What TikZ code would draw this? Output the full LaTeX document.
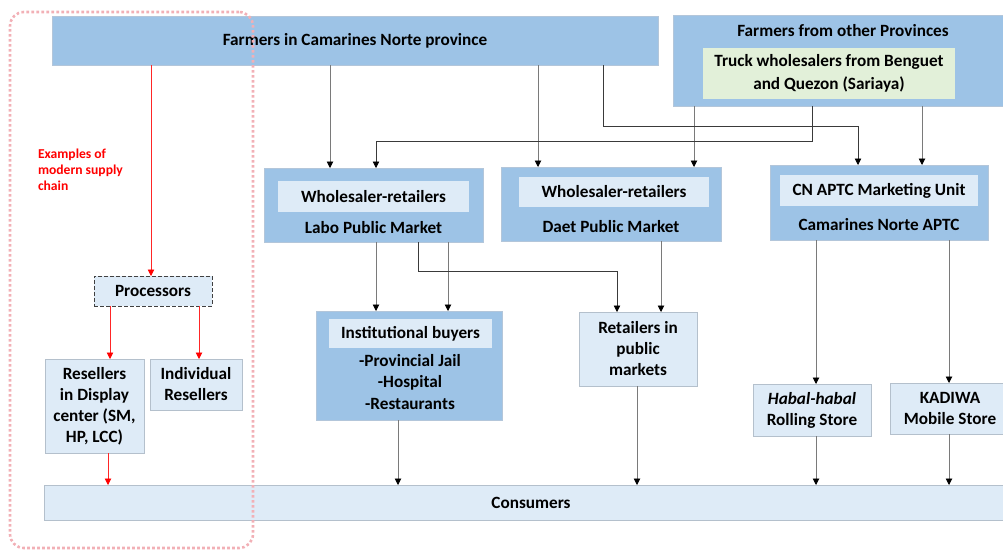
\documentclass[tikz,border=0pt]{standalone}
\usepackage{fontspec}
\setmainfont{Carlito}
\usetikzlibrary{arrows.meta}
\definecolor{boxblue}{HTML}{9DC3E6}
\definecolor{boxlight}{HTML}{DEEBF7}
\definecolor{boxgreen}{HTML}{E2F0D9}
\definecolor{edgeblue}{HTML}{B3C6DA}
\definecolor{edgegray}{HTML}{B4C0CC}
\definecolor{framepink}{HTML}{F2B0B6}
\definecolor{linegray}{HTML}{7A7A7A}
\definecolor{linedark}{HTML}{3A3A3A}
\begin{document}
\begin{tikzpicture}[x=1pt,y=-1pt,
  font=\fontsize{17.2}{21}\selectfont\bfseries,
  darkbox/.style={draw=edgeblue,fill=boxblue,line width=1pt,inner sep=0pt,outer sep=0pt,align=center},
  lightbox/.style={draw=edgegray,fill=boxlight,line width=1pt,inner sep=0pt,outer sep=0pt,align=center},
  innerbox/.style={fill=boxlight,inner sep=0pt,outer sep=0pt,align=center},
  greenbox/.style={fill=boxgreen,inner sep=0pt,outer sep=0pt,align=center},
  procbox/.style={draw=black!75,fill=boxlight,dash pattern=on 4pt off 2pt,line width=1pt,inner sep=0pt,outer sep=0pt},
  txt/.style={inner sep=0pt,outer sep=0pt,align=center},
  modernframe/.style={draw=framepink,line width=2.6pt,dash pattern=on 2.6pt off 2.4pt,rounded corners=14pt,inner sep=0pt,outer sep=0pt},
  flow/.style={draw=linegray,line width=0.9pt,-{Triangle[width=6.5pt,length=6.5pt,color=black]}},
  elbow/.style={draw=linedark,line width=0.8pt,-{Triangle[width=6.5pt,length=6.5pt,color=black]}},
  redflow/.style={draw=red!85,line width=0.9pt,-{Triangle[width=6.5pt,length=6.5pt,color=red]}}
]
\useasboundingbox (0,0) rectangle (1003,550);

% --- top row: producers
\node[darkbox,minimum width=606pt,minimum height=49pt] (cn) at (355,40.5) {Farmers in Camarines Norte province};
\node[darkbox,minimum width=340pt,minimum height=91pt] (op) at (843,60.5) {};
\node[txt] (optitle) at (843,30.5) {Farmers from other Provinces};
\node[greenbox,minimum width=252pt,minimum height=51pt] (truck) at (829,73.5) {Truck wholesalers from Benguet\\[1.5pt]and Quezon (Sariaya)};

% --- second row: wholesalers and marketing unit
\node[darkbox,minimum width=219pt,minimum height=74pt] (labo) at (373.5,205) {};
\node[innerbox,minimum width=191pt,minimum height=31pt] (laboin) at (373.5,196.5) {Wholesaler-retailers};
\node[txt] (labot) at (373.5,227.5) {Labo Public Market};

\node[darkbox,minimum width=220pt,minimum height=74pt] (daet) at (611,204) {};
\node[innerbox,minimum width=190pt,minimum height=30pt] (daetin) at (614,192) {Wholesaler-retailers};
\node[txt] (daett) at (611,226.5) {Daet Public Market};

\node[darkbox,minimum width=218pt,minimum height=75pt] (apt) at (879,202.5) {};
\node[innerbox,minimum width=198pt,minimum height=31pt] (aptin) at (879,190.5) {CN APTC Marketing Unit};
\node[txt] (aptt) at (879,224.5) {Camarines Norte APTC};

% --- modern supply chain branch
\node[procbox,minimum width=118pt,minimum height=30pt] (proc) at (153,291) {Processors};
\node[lightbox,minimum width=99pt,minimum height=94pt] (resd) at (94.5,406) {Resellers\\in Display\\center (SM,\\HP, LCC)};
\node[lightbox,minimum width=92pt,minimum height=51pt] (indiv) at (196,384.5) {Individual\\Resellers};
\node[txt,anchor=west,align=left,text=red,font=\fontsize{13.6}{16}\selectfont\bfseries] (note) at (38,169.5) {Examples of\\modern supply\\chain};

% --- third row: buyers and retail outlets
\node[darkbox,minimum width=186pt,minimum height=109pt] (inst) at (409,365.5) {};
\node[innerbox,minimum width=163pt,minimum height=29pt] (instin) at (410.5,333.5) {Institutional buyers};
\node[txt] (instt) at (410,382) {-Provincial Jail\\[0.5pt]-Hospital\\[0.5pt]-Restaurants};

\node[lightbox,minimum width=118pt,minimum height=74pt] (retail) at (638,349) {Retailers in\\public\\markets};
\node[lightbox,minimum width=118pt,minimum height=52pt] (habal) at (812,410) {\textit{Habal-habal}\\Rolling Store};
\node[lightbox,minimum width=120pt,minimum height=51pt] (kad) at (950,408.5) {KADIWA\\Mobile Store};

% --- consumers
\node[lightbox,minimum width=974pt,minimum height=35pt] (cons) at (531,502.5) {Consumers};

% --- column and bend points of the connectors
\coordinate (x108) at (108,0);
\coordinate (x110) at (110,0);
\coordinate (x151) at (151,0);
\coordinate (x199) at (199,0);
\coordinate (x330) at (330,0);
\coordinate (x376) at (376,0);
\coordinate (x398) at (398,0);
\coordinate (x448) at (448,0);
\coordinate (x538) at (538,0);
\coordinate (x637) at (637,0);
\coordinate (x661) at (661,0);
\coordinate (x694) at (694,0);
\coordinate (x816) at (816,0);
\coordinate (x922) at (922,0);
\coordinate (x949) at (949,0);
\coordinate (b603) at (603,126);
\coordinate (b858) at (858,126);
\coordinate (b812) at (812,141);
\coordinate (b376) at (376,141);
\coordinate (b418) at (418,271);
\coordinate (b617) at (617,271);

% --- red connectors (modern chain)
\draw[redflow] (cn.south -| x151) -- (proc.north -| x151);
\draw[redflow] (proc.south -| x110) -- (resd.north -| x110);
\draw[redflow] (proc.south -| x199) -- (indiv.north -| x199);
\draw[redflow] (resd.south -| x108) -- (cons.north -| x108);

% --- straight connectors
\draw[flow] (cn.south -| x330) -- (labo.north -| x330);
\draw[flow] (cn.south -| x538) -- (daet.north -| x538);
\draw[flow] (op.south -| x694) -- (daet.north -| x694);
\draw[flow] (op.south -| x922) -- (apt.north -| x922);
\draw[flow] (labo.south -| x376) -- (inst.north -| x376);
\draw[flow] (labo.south -| x448) -- (inst.north -| x448);
\draw[flow] (daet.south -| x661) -- (retail.north -| x661);
\draw[flow] (apt.south -| x816) -- (habal.north -| x816);
\draw[flow] (apt.south -| x949) -- (kad.north -| x949);
\draw[flow] (inst.south -| x398) -- (cons.north -| x398);
\draw[flow] (retail.south -| x637) -- (cons.north -| x637);
\draw[flow] (habal.south -| x816) -- (cons.north -| x816);
\draw[flow] (kad.south -| x949) -- (cons.north -| x949);

% --- bent connectors
\draw[elbow] (cn.south -| b603) -- (b603) -- (b858) -- (apt.north -| b858);
\draw[elbow] (op.south -| b812) -- (b812) -- (b376) -- (labo.north -| b376);
\draw[elbow] (labo.south -| b418) -- (b418) -- (b617) -- (retail.north -| b617);

% --- frame around the modern supply chain
\node[modernframe,minimum width=243pt,minimum height=536pt] (modern) at (131.5,280) {};
\end{tikzpicture}
\end{document}
